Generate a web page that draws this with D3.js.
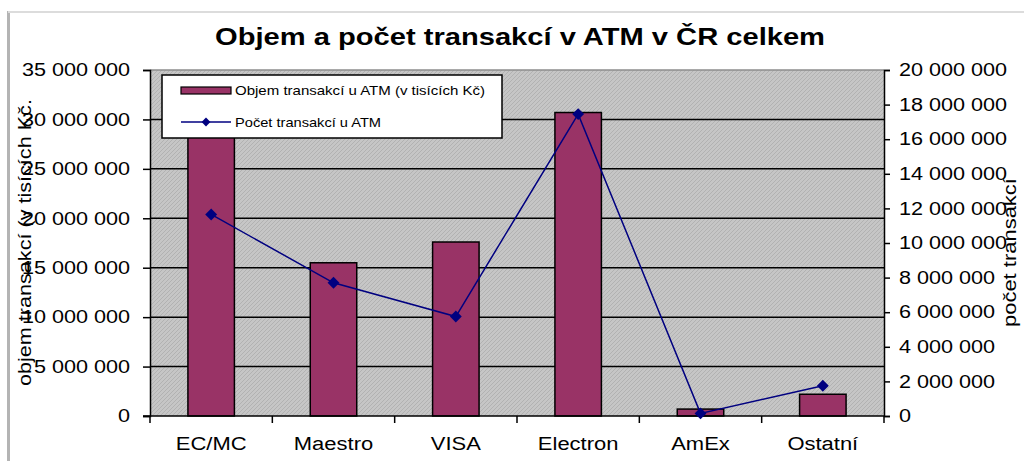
<!DOCTYPE html>
<html>
<head>
<meta charset="utf-8">
<script src="https://cdn.jsdelivr.net/npm/d3@7"></script>
<style>
  body { margin: 0; background: #fff; }
  svg { display: block; font-family: "Liberation Sans", Arial, sans-serif; }
</style>
</head>
<body>
<div id="chart"></div>
<script>
// Chart data
const categories = ["EC/MC", "Maestro", "VISA", "Electron", "AmEx", "Ostatní"];
const objem = [32000000, 15500000, 17600000, 30700000, 700000, 2200000];
const pocet = [11650000, 7700000, 5750000, 17450000, 150000, 1750000];
const leftTicks = [0, 5000000, 10000000, 15000000, 20000000, 25000000, 30000000, 35000000];
const rightTicks = [0, 2000000, 4000000, 6000000, 8000000, 10000000, 12000000, 14000000, 16000000, 18000000, 20000000];
const legendLabels = ["Objem transakcí u ATM (v tisících Kč)", "Počet transakcí u ATM"];

const width = 1024, height = 461;
const plot = { left: 150, right: 884, top: 70, bottom: 416 };
const barColor = "#993366";
const lineColor = "#000080";

const svg = d3.select("#chart")
    .append("svg")
    .attr("width", width)
    .attr("height", height);

// stretch text horizontally like the old bitmap
function Stretch(sel, k) {
    sel.each(function() {
        const w = this.getComputedTextLength();
        d3.select(this).attr("textLength", w * k).attr("lengthAdjust", "spacingAndGlyphs");
    });
}

const fmt = v => d3.format(",")(v).replace(/,/g, " ");

const x = d3.scaleBand()
    .domain(categories)
    .range([plot.left, plot.right])
    .padding(0);
const yL = d3.scaleLinear().domain([0, 35000000]).range([plot.bottom, plot.top]);
const yR = d3.scaleLinear().domain([0, 20000000]).range([plot.bottom, plot.top]);
const barW = x.bandwidth() * 0.38;

// outer frame shadow
svg.append("line").attr("x1", 8.5).attr("x2", 8.5).attr("y1", 11).attr("y2", height)
    .attr("stroke", "#b4b4b4").attr("stroke-width", 3);
svg.append("line").attr("x1", 8).attr("x2", width).attr("y1", 12).attr("y2", 12)
    .attr("stroke", "#dcdcdc").attr("stroke-width", 2);

// hatched plot background
const defs = svg.append("defs");
const pat = defs.append("pattern")
    .attr("id", "hatch")
    .attr("width", 4).attr("height", 4)
    .attr("patternUnits", "userSpaceOnUse");
pat.append("rect").attr("width", 4).attr("height", 4).attr("fill", "#c6c6c6");
pat.append("path").attr("d", "M0,4 L4,0").attr("stroke", "#b2b2b2").attr("stroke-width", 1);

svg.append("rect")
    .attr("x", plot.left).attr("y", plot.top)
    .attr("width", plot.right - plot.left).attr("height", plot.bottom - plot.top)
    .attr("fill", "url(#hatch)");

svg.append("line")
    .attr("x1", plot.left).attr("x2", plot.right)
    .attr("y1", plot.top).attr("y2", plot.top)
    .attr("stroke", "#8c8c8c").attr("stroke-width", 1.5);

// gridlines
svg.selectAll(".grid")
    .data(leftTicks.filter(d => d > 0 && d < 35000000))
    .join("line")
    .attr("class", "grid")
    .attr("x1", plot.left).attr("x2", plot.right)
    .attr("y1", d => yL(d)).attr("y2", d => yL(d))
    .attr("stroke", "#000").attr("stroke-width", 1.5);

// bars
svg.selectAll(".bar")
    .data(objem)
    .join("rect")
    .attr("class", "bar")
    .attr("x", (d, i) => x(categories[i]) + x.bandwidth() / 2 - barW / 2)
    .attr("y", d => yL(d))
    .attr("width", barW)
    .attr("height", d => plot.bottom - yL(d))
    .attr("fill", barColor)
    .attr("stroke", "#000")
    .attr("stroke-width", 1.5);

// left axis
const axL = svg.append("g")
    .attr("transform", `translate(${plot.left},0)`)
    .call(d3.axisLeft(yL).tickValues(leftTicks).tickFormat(fmt).tickSize(7).tickPadding(13));
axL.select(".domain").attr("stroke", "#000").attr("stroke-width", 1.5);
axL.selectAll(".tick line").attr("stroke", "#000").attr("stroke-width", 1.5);
axL.selectAll("text").attr("font-size", 18).attr("fill", "#000")
    .attr("font-family", "Liberation Sans, Arial, sans-serif").call(Stretch, 1.2);

// right axis
const axR = svg.append("g")
    .attr("transform", `translate(${plot.right},0)`)
    .call(d3.axisRight(yR).tickValues(rightTicks).tickFormat(fmt).tickSize(6).tickPadding(9));
axR.select(".domain").attr("stroke", "#000").attr("stroke-width", 1.5);
axR.selectAll(".tick line").attr("stroke", "#000").attr("stroke-width", 1.5);
axR.selectAll("text").attr("font-size", 18).attr("fill", "#000")
    .attr("font-family", "Liberation Sans, Arial, sans-serif").call(Stretch, 1.2);

// bottom axis
svg.append("line")
    .attr("x1", plot.left - 7).attr("x2", plot.right)
    .attr("y1", plot.bottom).attr("y2", plot.bottom)
    .attr("stroke", "#000").attr("stroke-width", 1.5);
svg.selectAll(".xtick")
    .data(categories.slice(1).concat(["end"]))
    .join("line")
    .attr("class", "xtick")
    .attr("x1", (d, i) => plot.left + x.bandwidth() * (i + 1))
    .attr("x2", (d, i) => plot.left + x.bandwidth() * (i + 1))
    .attr("y1", plot.bottom).attr("y2", plot.bottom + 7)
    .attr("stroke", "#000").attr("stroke-width", 1.5);
svg.append("line")
    .attr("x1", plot.left).attr("x2", plot.left)
    .attr("y1", plot.bottom).attr("y2", plot.bottom + 7)
    .attr("stroke", "#000").attr("stroke-width", 1.5);

svg.selectAll(".xlabel")
    .data(categories)
    .join("text")
    .attr("class", "xlabel")
    .attr("x", d => x(d) + x.bandwidth() / 2)
    .attr("y", 450)
    .attr("text-anchor", "middle")
    .attr("font-size", 18)
    .text(d => d)
    .call(Stretch, 1.22);

// line series
const line = d3.line()
    .x((d, i) => x(categories[i]) + x.bandwidth() / 2)
    .y(d => yR(d));
svg.append("path")
    .datum(pocet)
    .attr("d", line)
    .attr("fill", "none")
    .attr("stroke", lineColor)
    .attr("stroke-width", 1.5);
svg.selectAll(".marker")
    .data(pocet)
    .join("path")
    .attr("class", "marker")
    .attr("transform", (d, i) => `translate(${x(categories[i]) + x.bandwidth() / 2},${yR(d)})`)
    .attr("d", d3.symbol(d3.symbolDiamond2, 90))
    .attr("fill", lineColor);

// legend
const lg = svg.append("g");
lg.append("rect")
    .attr("x", 162).attr("y", 75).attr("width", 340).attr("height", 63)
    .attr("fill", "#fff").attr("stroke", "#000").attr("stroke-width", 1.5);
lg.append("rect")
    .attr("x", 181).attr("y", 87).attr("width", 50).attr("height", 7)
    .attr("fill", barColor).attr("stroke", "#000").attr("stroke-width", 1.2);
lg.append("line")
    .attr("x1", 181).attr("x2", 231).attr("y1", 122).attr("y2", 122)
    .attr("stroke", lineColor).attr("stroke-width", 1.5);
lg.append("path")
    .attr("transform", "translate(206,122)")
    .attr("d", d3.symbol(d3.symbolDiamond2, 50))
    .attr("fill", lineColor);
lg.selectAll(".lgtext")
    .data(legendLabels)
    .join("text")
    .attr("class", "lgtext")
    .attr("x", 235)
    .attr("y", (d, i) => 95 + i * 32)
    .attr("font-size", 13)
    .text(d => d);
lg.selectAll(".lgtext").each(function(d, i) {
    d3.select(this).attr("textLength", i === 0 ? 250 : 146).attr("lengthAdjust", "spacingAndGlyphs");
});

// title
svg.append("text")
    .attr("x", 520).attr("y", 45)
    .attr("text-anchor", "middle")
    .attr("font-size", 23)
    .attr("font-weight", "bold")
    .attr("textLength", 610)
    .attr("lengthAdjust", "spacingAndGlyphs")
    .text("Objem a počet transakcí v ATM v ČR celkem");

// axis titles
svg.append("text")
    .attr("transform", "translate(31,386) rotate(-90)")
    .attr("font-size", 18)
    .text("objem transakcí (v tisících Kč.")
    .call(Stretch, 1.2);
svg.append("text")
    .attr("transform", "translate(1016,327) rotate(-90)")
    .attr("font-size", 18)
    .text("počet transakcí")
    .call(Stretch, 1.22);
</script>
</body>
</html>
